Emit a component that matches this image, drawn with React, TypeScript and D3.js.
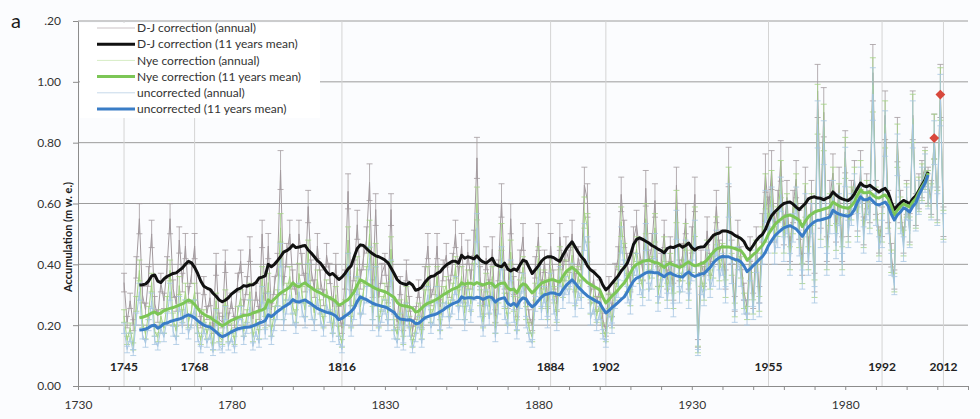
import React, { useRef, useEffect } from 'react';
import * as d3 from 'd3';

// first year of the annual series and of the 11-year running means
const ANNUAL_START = 1745;
const MEAN_START = 1750;

// uncorrected annual accumulation (m w.e.), 1745-2012
const UNC_ANNUAL = [
  0.19, 0.12, 0.16, 0.11, 0.22,
  0.31, 0.17, 0.14, 0.20, 0.28, 0.15, 0.13, 0.19, 0.16, 0.22,
  0.31, 0.18, 0.15, 0.27, 0.19, 0.26, 0.17, 0.21, 0.26, 0.16,
  0.12, 0.19, 0.14, 0.17, 0.11, 0.23, 0.13, 0.12, 0.24, 0.13,
  0.16, 0.12, 0.20, 0.24, 0.15, 0.19, 0.26, 0.13, 0.18, 0.14,
  0.30, 0.17, 0.28, 0.15, 0.20, 0.24, 0.43, 0.20, 0.26, 0.30,
  0.22, 0.19, 0.31, 0.25, 0.21, 0.37, 0.24, 0.20, 0.29, 0.22,
  0.18, 0.27, 0.23, 0.16, 0.25, 0.15, 0.12, 0.22, 0.40, 0.18,
  0.24, 0.33, 0.22, 0.26, 0.30, 0.42, 0.20, 0.36, 0.18, 0.23,
  0.26, 0.20, 0.38, 0.17, 0.14, 0.22, 0.13, 0.25, 0.18, 0.12,
  0.16, 0.21, 0.14, 0.24, 0.30, 0.19, 0.22, 0.30, 0.17, 0.25,
  0.28, 0.21, 0.26, 0.33, 0.24, 0.30, 0.20, 0.29, 0.23, 0.31,
  0.52, 0.25, 0.18, 0.29, 0.22, 0.31, 0.16, 0.26, 0.42, 0.24,
  0.19, 0.38, 0.23, 0.17, 0.28, 0.34, 0.21, 0.16, 0.14, 0.27,
  0.36, 0.24, 0.30, 0.21, 0.34, 0.26, 0.20, 0.36, 0.28, 0.33,
  0.30, 0.37, 0.25, 0.31, 0.28, 0.49, 0.45, 0.22, 0.26, 0.20,
  0.24, 0.17, 0.14, 0.25, 0.19, 0.28, 0.32, 0.48, 0.38, 0.30,
  0.26, 0.36, 0.40, 0.33, 0.29, 0.49, 0.31, 0.35, 0.46, 0.27,
  0.32, 0.40, 0.28, 0.36, 0.25, 0.53, 0.30, 0.34, 0.44, 0.28,
  0.38, 0.50, 0.11, 0.33, 0.29, 0.41, 0.32, 0.36, 0.47, 0.35,
  0.40, 0.30, 0.61, 0.37, 0.23, 0.42, 0.36, 0.26, 0.22, 0.38,
  0.24, 0.41, 0.25, 0.44, 0.59, 0.48, 0.60, 0.44, 0.50, 0.63,
  0.45, 0.55, 0.40, 0.52, 0.60, 0.47, 0.35, 0.58, 0.40, 0.55,
  0.30, 0.86, 0.50, 0.80, 0.40, 0.55, 0.62, 0.46, 0.58, 0.40,
  0.72, 0.50, 0.58, 0.64, 0.52, 0.66, 0.48, 0.60, 0.55, 0.96,
  0.58, 0.45, 0.50, 0.83, 0.55, 0.40, 0.33, 0.76, 0.55, 0.45,
  0.60, 0.50, 0.86, 0.56, 0.62, 0.66, 0.70, 0.64, 0.60, 0.80,
  0.58, 0.94, 0.52,
];

// Nye-corrected annual, 1745-2012
const NYE_ANNUAL = [
  0.23, 0.15, 0.19, 0.13, 0.27,
  0.38, 0.21, 0.17, 0.24, 0.34, 0.18, 0.16, 0.23, 0.19, 0.27,
  0.38, 0.22, 0.18, 0.33, 0.23, 0.31, 0.21, 0.25, 0.31, 0.19,
  0.15, 0.23, 0.17, 0.21, 0.13, 0.28, 0.16, 0.15, 0.29, 0.16,
  0.19, 0.15, 0.24, 0.29, 0.18, 0.23, 0.31, 0.16, 0.22, 0.17,
  0.36, 0.21, 0.34, 0.18, 0.24, 0.29, 0.52, 0.24, 0.31, 0.36,
  0.26, 0.23, 0.37, 0.30, 0.25, 0.44, 0.29, 0.24, 0.35, 0.26,
  0.21, 0.32, 0.27, 0.19, 0.30, 0.18, 0.14, 0.26, 0.48, 0.21,
  0.29, 0.39, 0.26, 0.31, 0.36, 0.50, 0.24, 0.43, 0.21, 0.27,
  0.31, 0.24, 0.45, 0.20, 0.17, 0.26, 0.15, 0.30, 0.21, 0.14,
  0.19, 0.25, 0.17, 0.29, 0.36, 0.23, 0.26, 0.36, 0.20, 0.30,
  0.33, 0.25, 0.31, 0.39, 0.29, 0.36, 0.24, 0.35, 0.27, 0.37,
  0.60, 0.29, 0.21, 0.34, 0.26, 0.36, 0.19, 0.30, 0.49, 0.28,
  0.22, 0.44, 0.27, 0.20, 0.32, 0.39, 0.24, 0.19, 0.16, 0.31,
  0.42, 0.28, 0.35, 0.24, 0.39, 0.30, 0.23, 0.42, 0.32, 0.38,
  0.35, 0.43, 0.29, 0.36, 0.32, 0.57, 0.52, 0.26, 0.30, 0.23,
  0.27, 0.19, 0.16, 0.28, 0.21, 0.31, 0.36, 0.54, 0.43, 0.34,
  0.29, 0.40, 0.45, 0.37, 0.32, 0.55, 0.35, 0.39, 0.52, 0.30,
  0.36, 0.45, 0.31, 0.40, 0.28, 0.59, 0.34, 0.38, 0.49, 0.31,
  0.41, 0.54, 0.12, 0.36, 0.31, 0.44, 0.35, 0.39, 0.51, 0.38,
  0.43, 0.32, 0.66, 0.40, 0.25, 0.45, 0.39, 0.28, 0.24, 0.41,
  0.26, 0.44, 0.27, 0.48, 0.64, 0.52, 0.65, 0.48, 0.54, 0.68,
  0.48, 0.58, 0.42, 0.55, 0.64, 0.50, 0.37, 0.61, 0.42, 0.58,
  0.32, 0.91, 0.53, 0.85, 0.42, 0.58, 0.66, 0.49, 0.61, 0.42,
  0.75, 0.52, 0.60, 0.66, 0.54, 0.68, 0.50, 0.62, 0.57, 0.99,
  0.60, 0.47, 0.52, 0.86, 0.57, 0.41, 0.34, 0.79, 0.57, 0.47,
  0.61, 0.51, 0.88, 0.57, 0.63, 0.67, 0.71, 0.65, 0.61, 0.82,
  0.59, 0.96, 0.53,
];

// D-J corrected annual, 1745-2012
const DJ_ANNUAL = [
  0.34, 0.21, 0.28, 0.20, 0.39,
  0.55, 0.30, 0.25, 0.36, 0.50, 0.27, 0.23, 0.34, 0.28, 0.39,
  0.55, 0.32, 0.27, 0.48, 0.34, 0.46, 0.30, 0.37, 0.46, 0.28,
  0.21, 0.33, 0.24, 0.29, 0.19, 0.40, 0.22, 0.21, 0.41, 0.22,
  0.28, 0.21, 0.34, 0.41, 0.26, 0.33, 0.45, 0.22, 0.31, 0.24,
  0.50, 0.28, 0.46, 0.25, 0.33, 0.40, 0.71, 0.33, 0.43, 0.50,
  0.35, 0.30, 0.50, 0.40, 0.34, 0.59, 0.38, 0.32, 0.46, 0.35,
  0.29, 0.43, 0.37, 0.26, 0.40, 0.24, 0.19, 0.35, 0.64, 0.29,
  0.38, 0.53, 0.35, 0.42, 0.48, 0.67, 0.32, 0.58, 0.29, 0.37,
  0.40, 0.30, 0.58, 0.26, 0.21, 0.33, 0.20, 0.38, 0.27, 0.18,
  0.24, 0.32, 0.21, 0.36, 0.46, 0.29, 0.33, 0.46, 0.26, 0.38,
  0.43, 0.32, 0.40, 0.50, 0.36, 0.46, 0.30, 0.44, 0.35, 0.47,
  0.75, 0.36, 0.26, 0.42, 0.32, 0.45, 0.23, 0.38, 0.61, 0.35,
  0.28, 0.55, 0.33, 0.25, 0.41, 0.49, 0.30, 0.23, 0.20, 0.39,
  0.49, 0.32, 0.41, 0.28, 0.46, 0.35, 0.27, 0.49, 0.38, 0.45,
  0.41, 0.50, 0.34, 0.42, 0.38, 0.66, 0.61, 0.30, 0.35, 0.27,
  0.32, 0.22, 0.18, 0.33, 0.25, 0.37, 0.42, 0.63, 0.50, 0.40,
  0.34, 0.48, 0.53, 0.44, 0.38, 0.65, 0.41, 0.46, 0.61, 0.36,
  0.40, 0.50, 0.35, 0.45, 0.31, 0.66, 0.38, 0.43, 0.55, 0.35,
  0.48, 0.63, 0.14, 0.41, 0.36, 0.51, 0.40, 0.45, 0.59, 0.44,
  0.47, 0.35, 0.72, 0.44, 0.27, 0.50, 0.42, 0.31, 0.26, 0.45,
  0.28, 0.48, 0.30, 0.52, 0.70, 0.57, 0.71, 0.52, 0.59, 0.74,
  0.51, 0.62, 0.45, 0.59, 0.68, 0.53, 0.40, 0.66, 0.45, 0.62,
  0.34, 0.97, 0.57, 0.90, 0.45, 0.62, 0.70, 0.52, 0.66, 0.45,
  0.77, 0.54, 0.62, 0.68, 0.56, 0.71, 0.51, 0.64, 0.59, 1.03,
  0.62, 0.48, 0.54, 0.89, 0.59, 0.43, 0.35, 0.81, 0.59, 0.48,
  0.62, 0.52, 0.89, 0.58, 0.64, 0.68, 0.72, 0.66, 0.62, 0.82,
  0.60, 0.97, 0.54,
];

// 11 years running means, 1750-2007
const DJ_MEAN = [
  0.332, 0.333, 0.335, 0.345, 0.362, 0.365, 0.345, 0.340, 0.352, 0.360,
  0.365, 0.370, 0.372, 0.380, 0.388, 0.400, 0.410, 0.405, 0.390, 0.370,
  0.345, 0.328, 0.322, 0.318, 0.305, 0.295, 0.283, 0.277, 0.282, 0.290,
  0.302, 0.310, 0.318, 0.322, 0.330, 0.328, 0.332, 0.333, 0.340, 0.355,
  0.358, 0.362, 0.400, 0.392, 0.400, 0.412, 0.425, 0.440, 0.445, 0.452,
  0.464, 0.455, 0.457, 0.460, 0.462, 0.447, 0.437, 0.425, 0.412, 0.404,
  0.390, 0.375, 0.365, 0.370, 0.360, 0.350, 0.358, 0.370, 0.385, 0.395,
  0.425, 0.452, 0.464, 0.462, 0.452, 0.442, 0.435, 0.428, 0.425, 0.420,
  0.414, 0.405, 0.388, 0.370, 0.350, 0.340, 0.336, 0.333, 0.340, 0.332,
  0.315, 0.318, 0.325, 0.340, 0.352, 0.360, 0.362, 0.370, 0.375, 0.388,
  0.398, 0.404, 0.410, 0.410, 0.404, 0.430, 0.420, 0.425, 0.422, 0.418,
  0.428, 0.415, 0.408, 0.404, 0.412, 0.420, 0.400, 0.395, 0.392, 0.404,
  0.385, 0.378, 0.385, 0.380, 0.398, 0.414, 0.410, 0.390, 0.370, 0.382,
  0.395, 0.410, 0.420, 0.425, 0.425, 0.422, 0.415, 0.410, 0.430, 0.448,
  0.462, 0.474, 0.457, 0.440, 0.425, 0.414, 0.395, 0.382, 0.375, 0.365,
  0.355, 0.332, 0.316, 0.325, 0.338, 0.350, 0.362, 0.378, 0.390, 0.404,
  0.430, 0.465, 0.482, 0.487, 0.482, 0.476, 0.470, 0.462, 0.457, 0.450,
  0.445, 0.438, 0.452, 0.457, 0.455, 0.460, 0.464, 0.456, 0.462, 0.470,
  0.455, 0.447, 0.455, 0.457, 0.458, 0.470, 0.482, 0.495, 0.500, 0.503,
  0.510, 0.510, 0.507, 0.503, 0.495, 0.490, 0.485, 0.475, 0.455, 0.447,
  0.462, 0.478, 0.490, 0.498, 0.515, 0.540, 0.560, 0.572, 0.582, 0.592,
  0.600, 0.603, 0.605, 0.598, 0.588, 0.580, 0.590, 0.600, 0.615, 0.620,
  0.622, 0.618, 0.617, 0.612, 0.618, 0.622, 0.638, 0.628, 0.620, 0.615,
  0.612, 0.610, 0.618, 0.632, 0.650, 0.667, 0.658, 0.655, 0.660, 0.652,
  0.645, 0.638, 0.645, 0.650, 0.636, 0.605, 0.580, 0.592, 0.602, 0.610,
  0.605, 0.600, 0.615, 0.625, 0.643, 0.660, 0.678, 0.704,
];

const NYE_MEAN = [
  0.224, 0.226, 0.230, 0.234, 0.240, 0.243, 0.236, 0.240, 0.248, 0.252,
  0.255, 0.258, 0.262, 0.266, 0.270, 0.276, 0.283, 0.278, 0.268, 0.255,
  0.243, 0.236, 0.230, 0.226, 0.218, 0.212, 0.205, 0.198, 0.203, 0.210,
  0.216, 0.220, 0.225, 0.228, 0.232, 0.233, 0.235, 0.240, 0.244, 0.248,
  0.250, 0.256, 0.283, 0.276, 0.286, 0.296, 0.306, 0.312, 0.318, 0.325,
  0.339, 0.330, 0.326, 0.334, 0.339, 0.330, 0.324, 0.316, 0.310, 0.306,
  0.300, 0.295, 0.290, 0.285, 0.278, 0.266, 0.270, 0.278, 0.284, 0.296,
  0.310, 0.332, 0.349, 0.344, 0.338, 0.332, 0.326, 0.320, 0.316, 0.313,
  0.310, 0.305, 0.298, 0.292, 0.275, 0.266, 0.264, 0.262, 0.260, 0.256,
  0.243, 0.246, 0.256, 0.266, 0.272, 0.276, 0.280, 0.286, 0.292, 0.300,
  0.306, 0.312, 0.318, 0.322, 0.326, 0.339, 0.334, 0.338, 0.338, 0.334,
  0.340, 0.336, 0.332, 0.336, 0.339, 0.336, 0.325, 0.334, 0.338, 0.339,
  0.322, 0.316, 0.319, 0.306, 0.326, 0.336, 0.332, 0.318, 0.306, 0.316,
  0.328, 0.338, 0.342, 0.346, 0.349, 0.349, 0.345, 0.342, 0.360, 0.375,
  0.384, 0.390, 0.382, 0.372, 0.360, 0.350, 0.340, 0.334, 0.328, 0.322,
  0.316, 0.292, 0.273, 0.284, 0.296, 0.305, 0.316, 0.328, 0.339, 0.355,
  0.372, 0.390, 0.400, 0.404, 0.410, 0.412, 0.414, 0.410, 0.406, 0.404,
  0.398, 0.390, 0.400, 0.404, 0.398, 0.394, 0.390, 0.394, 0.402, 0.408,
  0.400, 0.395, 0.398, 0.402, 0.406, 0.415, 0.428, 0.440, 0.450, 0.454,
  0.458, 0.457, 0.457, 0.455, 0.452, 0.448, 0.445, 0.432, 0.414, 0.422,
  0.432, 0.440, 0.452, 0.462, 0.478, 0.500, 0.515, 0.530, 0.540, 0.548,
  0.556, 0.560, 0.562, 0.558, 0.552, 0.545, 0.524, 0.542, 0.556, 0.565,
  0.572, 0.576, 0.578, 0.582, 0.585, 0.589, 0.605, 0.598, 0.592, 0.588,
  0.586, 0.584, 0.592, 0.605, 0.628, 0.645, 0.635, 0.635, 0.638, 0.628,
  0.620, 0.618, 0.624, 0.628, 0.615, 0.590, 0.562, 0.578, 0.590, 0.599,
  0.594, 0.589, 0.605, 0.616, 0.636, 0.655, 0.671, 0.700,
];

const UNC_MEAN = [
  0.184, 0.185, 0.187, 0.192, 0.198, 0.200, 0.190, 0.196, 0.205, 0.207,
  0.212, 0.215, 0.218, 0.220, 0.224, 0.230, 0.234, 0.230, 0.224, 0.215,
  0.207, 0.200, 0.196, 0.194, 0.186, 0.178, 0.168, 0.162, 0.166, 0.172,
  0.178, 0.183, 0.188, 0.190, 0.192, 0.193, 0.194, 0.198, 0.202, 0.207,
  0.210, 0.215, 0.234, 0.228, 0.236, 0.245, 0.252, 0.260, 0.266, 0.272,
  0.284, 0.278, 0.276, 0.280, 0.283, 0.276, 0.270, 0.262, 0.255, 0.250,
  0.246, 0.242, 0.240, 0.236, 0.230, 0.218, 0.222, 0.230, 0.236, 0.245,
  0.257, 0.278, 0.293, 0.288, 0.284, 0.278, 0.272, 0.268, 0.265, 0.262,
  0.260, 0.255, 0.248, 0.242, 0.228, 0.220, 0.219, 0.217, 0.218, 0.214,
  0.205, 0.206, 0.215, 0.224, 0.228, 0.232, 0.234, 0.238, 0.244, 0.250,
  0.258, 0.264, 0.270, 0.274, 0.278, 0.293, 0.288, 0.290, 0.290, 0.288,
  0.292, 0.290, 0.285, 0.290, 0.293, 0.290, 0.276, 0.285, 0.288, 0.290,
  0.272, 0.265, 0.272, 0.262, 0.280, 0.290, 0.286, 0.270, 0.260, 0.268,
  0.280, 0.292, 0.300, 0.302, 0.306, 0.306, 0.302, 0.300, 0.316, 0.330,
  0.340, 0.349, 0.338, 0.325, 0.315, 0.305, 0.296, 0.290, 0.284, 0.278,
  0.273, 0.255, 0.240, 0.248, 0.258, 0.266, 0.275, 0.285, 0.293, 0.310,
  0.328, 0.345, 0.355, 0.359, 0.366, 0.372, 0.375, 0.374, 0.372, 0.372,
  0.366, 0.359, 0.368, 0.372, 0.366, 0.362, 0.360, 0.358, 0.368, 0.375,
  0.365, 0.360, 0.365, 0.368, 0.370, 0.380, 0.390, 0.405, 0.415, 0.422,
  0.426, 0.425, 0.425, 0.420, 0.416, 0.414, 0.408, 0.395, 0.376, 0.385,
  0.396, 0.405, 0.416, 0.425, 0.440, 0.462, 0.478, 0.493, 0.503, 0.512,
  0.520, 0.524, 0.527, 0.522, 0.516, 0.505, 0.492, 0.508, 0.522, 0.532,
  0.540, 0.545, 0.546, 0.549, 0.552, 0.556, 0.578, 0.570, 0.565, 0.562,
  0.560, 0.558, 0.565, 0.580, 0.605, 0.622, 0.612, 0.612, 0.618, 0.608,
  0.598, 0.595, 0.600, 0.605, 0.592, 0.565, 0.546, 0.562, 0.572, 0.586,
  0.580, 0.572, 0.590, 0.602, 0.628, 0.648, 0.667, 0.694,
];

// relative uncertainty drawn as error bars on the annual values
const ERR_FRAC = 0.09;

// volcanic eruption years marked on the chart
const EVENT_YEARS = [1745, 1768, 1816, 1884, 1902, 1955, 1992, 2012];

// separate red diamond values
const RED_YEARS = [2009, 2011];
const RED_VALUES = [0.815, 0.958];

const Y_TICKS = [0, 0.2, 0.4, 0.6, 0.8, 1.0, 1.2];
const X_LABEL_YEARS = [1730, 1780, 1830, 1880, 1930, 1980];

const LEGEND_LABELS = [
  'D-J correction (annual)',
  'D-J correction (11 years mean)',
  'Nye correction (annual)',
  'Nye correction (11 years mean)',
  'uncorrected (annual)',
  'uncorrected (11 years mean)',
];

const FONT = 'Lato, "Liberation Sans", Arial, sans-serif';

interface Pt { year: number; v: number; }

const toPts = (vals: number[], start: number): Pt[] =>
  vals.map((v, i) => ({ year: start + i, v }));

export default function App() {
  const svgRef = useRef<SVGSVGElement | null>(null);

  useEffect(() => {
    if (!svgRef.current) return;
    const width = 980;
    const height = 419;

    const svg = d3.select(svgRef.current);
    svg.selectAll('*').remove();
    svg.attr('width', width).attr('height', height);

    svg.append('rect')
      .attr('width', width)
      .attr('height', height)
      .attr('fill', '#fbfcfe');

    const x = d3.scaleLinear().domain([1730, 2020]).range([78, 968]);
    const y = d3.scaleLinear().domain([0, 1.2]).range([386, 21]);

    // Grid lines
    svg.append('g')
      .selectAll('line')
      .data(Y_TICKS.filter(d => d > 0))
      .enter()
      .append('line')
      .attr('x1', x(1730))
      .attr('x2', x(2020))
      .attr('y1', d => y(d))
      .attr('y2', d => y(d))
      .attr('stroke', '#9c9c9c')
      .attr('stroke-width', 1);

    // Eruption years
    svg.append('g')
      .selectAll('line')
      .data(EVENT_YEARS)
      .enter()
      .append('line')
      .attr('x1', d => x(d))
      .attr('x2', d => x(d))
      .attr('y1', y(1.2))
      .attr('y2', y(0))
      .attr('stroke', '#d4d4d4')
      .attr('stroke-width', 1);

    const line = d3.line<Pt>()
      .x(d => x(d.year))
      .y(d => y(d.v));

    const drawAnnual = (vals: number[], color: string) => {
      const pts = toPts(vals, ANNUAL_START);
      const g = svg.append('g')
        .attr('stroke', color)
        .attr('stroke-width', 0.8)
        .attr('fill', 'none');
      g.selectAll('.bar')
        .data(pts)
        .enter()
        .append('path')
        .attr('d', d => {
          const xx = x(d.year);
          const hi = y(d.v * (1 + ERR_FRAC));
          const lo = y(d.v * (1 - ERR_FRAC));
          return `M${xx},${hi}V${lo}M${xx - 3},${hi}H${xx + 3}M${xx - 3},${lo}H${xx + 3}`;
        });
      g.append('path')
        .datum(pts)
        .attr('stroke-width', 1)
        .attr('d', line);
    };

    drawAnnual(DJ_ANNUAL, '#a39a9e');
    drawAnnual(NYE_ANNUAL, '#a3d283');
    drawAnnual(UNC_ANNUAL, '#a7c7e2');

    const drawMean = (vals: number[], color: string) => {
      svg.append('path')
        .datum(toPts(vals, MEAN_START))
        .attr('fill', 'none')
        .attr('stroke', color)
        .attr('stroke-width', 3)
        .attr('stroke-linejoin', 'round')
        .attr('d', line);
    };

    drawMean(DJ_MEAN, '#111111');
    drawMean(NYE_MEAN, '#7cc656');
    drawMean(UNC_MEAN, '#3a7dc6');

    // Red diamonds
    svg.append('g')
      .selectAll('path')
      .data(RED_YEARS.map((yr, i) => ({ year: yr, v: RED_VALUES[i] })))
      .enter()
      .append('path')
      .attr('d', d3.symbol().type(d3.symbolSquare).size(48)())
      .attr('transform', d => `translate(${x(d.year)},${y(d.v)}) rotate(45)`)
      .attr('fill', '#d8483c');

    // Eruption labels
    svg.append('g')
      .selectAll('text')
      .data(EVENT_YEARS)
      .enter()
      .append('text')
      .attr('x', d => x(d))
      .attr('y', 371)
      .attr('text-anchor', 'middle')
      .attr('font-family', FONT)
      .attr('font-weight', 'bold')
      .attr('font-size', '12px')
      .attr('fill', '#222')
      .text(d => String(d));

    // Y axis
    const yAxis = d3.axisLeft(y)
      .tickValues(Y_TICKS)
      .tickSize(5)
      .tickSizeOuter(0)
      .tickPadding(12)
      .tickFormat(d => (+d === 1.2 ? '.20' : d3.format('.2f')(+d)));

    const yg = svg.append('g')
      .attr('transform', `translate(${x(1730)},0)`)
      .call(yAxis);
    yg.selectAll('text')
      .attr('fill', '#333')
      .attr('font-family', FONT)
      .attr('font-size', '12px');

    // X axis
    const xAxis = d3.axisBottom(x)
      .tickValues(d3.range(1730, 2021, 10))
      .tickSize(4)
      .tickSizeOuter(0)
      .tickPadding(10)
      .tickFormat(d => (X_LABEL_YEARS.includes(+d) ? String(d) : ''));

    const xg = svg.append('g')
      .attr('transform', `translate(0,${y(0)})`)
      .call(xAxis);
    xg.selectAll('text')
      .attr('fill', '#333')
      .attr('font-family', FONT)
      .attr('font-size', '12px');

    svg.selectAll('.domain').attr('stroke', '#8c8c8c');
    svg.selectAll('.tick line').attr('stroke', '#8c8c8c');

    // Y axis title
    svg.append('text')
      .attr('transform', `translate(72,${y(0.49)}) rotate(-90)`)
      .attr('text-anchor', 'middle')
      .attr('font-family', FONT)
      .attr('font-weight', 'bold')
      .attr('font-size', '11px')
      .attr('fill', '#1a1a1a')
      .text('Accumulation (m w. e.)');

    // Panel label
    svg.append('text')
      .attr('x', 11)
      .attr('y', 28)
      .attr('font-family', FONT)
      .attr('font-size', '20px')
      .attr('fill', '#1a1a1a')
      .text('a');

    // Legend
    const legend = svg.append('g');
    legend.append('rect')
      .attr('x', 80)
      .attr('y', 23)
      .attr('width', 240)
      .attr('height', 95)
      .attr('fill', '#ffffff');

    const legendStyles = [
      { color: '#c9c1c4', w: 1 },
      { color: '#111111', w: 3 },
      { color: '#d6ecc4', w: 1 },
      { color: '#7cc656', w: 3 },
      { color: '#c7d9ea', w: 1 },
      { color: '#3a7dc6', w: 3 },
    ];

    LEGEND_LABELS.forEach((label, i) => {
      const ly = 28 + i * 16.2;
      legend.append('line')
        .attr('x1', 97)
        .attr('x2', 135)
        .attr('y1', ly)
        .attr('y2', ly)
        .attr('stroke', legendStyles[i].color)
        .attr('stroke-width', legendStyles[i].w);
      legend.append('text')
        .attr('x', 137)
        .attr('y', ly)
        .attr('dy', '0.35em')
        .attr('font-family', FONT)
        .attr('font-size', '12px')
        .attr('fill', '#333')
        .text(label);
    });
  }, []);

  return (
    <svg
      ref={svgRef}
      style={{ position: 'absolute', left: 0, top: 0, display: 'block' }}
    />
  );
}
